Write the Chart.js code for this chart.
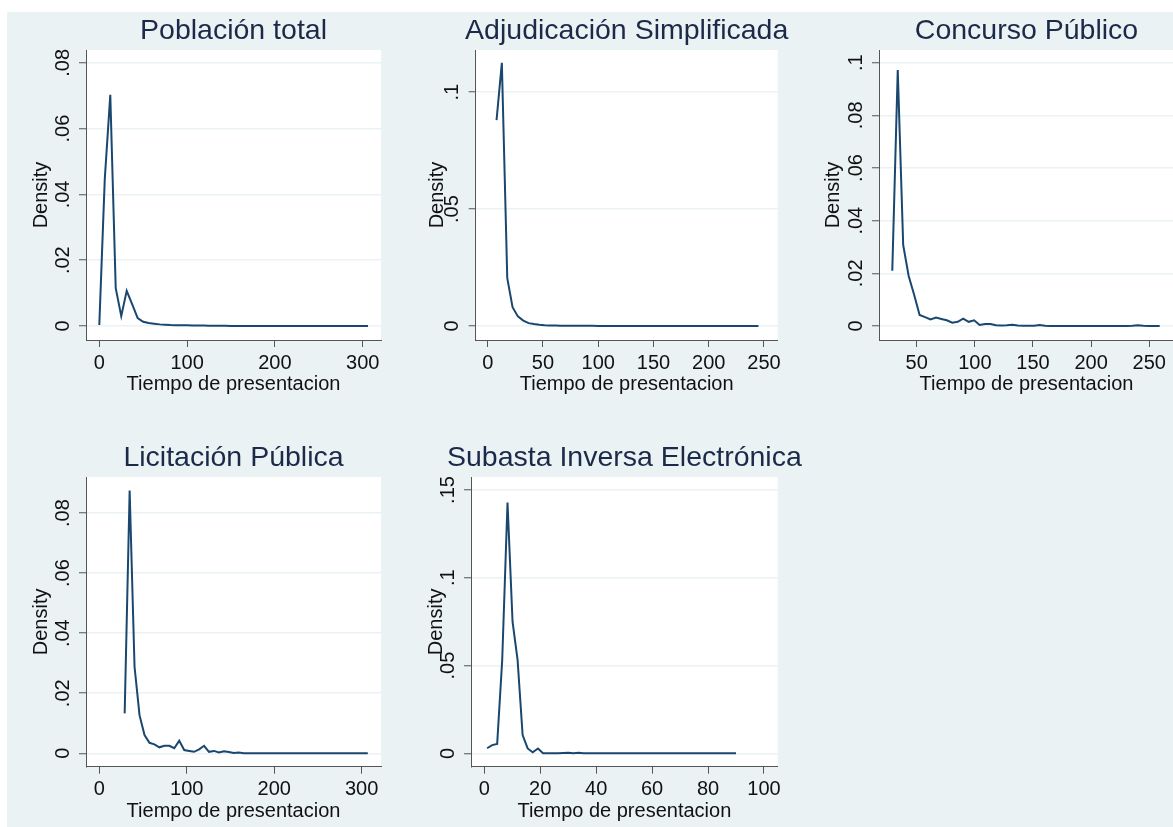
<!DOCTYPE html>
<html>
<head>
<meta charset="utf-8">
<script src="https://cdn.jsdelivr.net/npm/chart.js@4/dist/chart.umd.min.js"></script>
<style>
  html, body { margin: 0; padding: 0; background: #ffffff; width: 1173px; height: 827px; overflow: hidden; }
  body { position: relative; }
  #frame { position: absolute; left: 7px; top: 12px; width: 1166px; height: 815px; background: #eaf2f3; }
  canvas { position: absolute; }
</style>
</head>
<body>
<div id="frame"></div>
<canvas id="c1"></canvas>
<canvas id="c2"></canvas>
<canvas id="c3"></canvas>
<canvas id="c4"></canvas>
<canvas id="c5"></canvas>
<script>
// Kernel density estimates of "Tiempo de presentacion" (50 evaluation points each)

// Población total
const totalX = [0, 6.2, 12.5, 18.7, 25.0, 31.2, 37.5, 43.7, 50.0, 56.2, 62.4, 68.7, 74.9, 81.2, 87.4, 93.7, 99.9, 106.2, 112.4, 118.7,
  124.9, 131.1, 137.4, 143.6, 149.9, 156.1, 162.4, 168.6, 174.9, 181.1, 187.3, 193.6, 199.8, 206.1, 212.3, 218.6, 224.8, 231.1, 237.3, 243.6,
  249.8, 256.0, 262.3, 268.5, 274.8, 281.0, 287.3, 293.5, 299.8, 306.0];
const totalY = [0.0003, 0.0445, 0.0703, 0.0115, 0.0030, 0.0107, 0.0066, 0.0024, 0.0013, 0.0009, 0.0007, 0.0005, 0.0004, 0.0003, 0.00025, 0.0002, 0.0002, 0.00018, 0.00015, 0.00015,
  0.0001, 0.0001, 0.00008, 0.00005, 0.00004, 0.00003, 0.00003, 0.00002, 0.00002, 0.00002, 0.00001, 0.00001, 0.00001, 0.00001, 0.00001, 0, 0, 0, 0, 0,
  0, 0, 0, 0, 0, 0, 0, 0, 0, 0];

// Adjudicación Simplificada
const adjX = [8.0, 12.8, 17.7, 22.5, 27.3, 32.2, 37.0, 41.9, 46.7, 51.5, 56.4, 61.2, 66.0, 70.9, 75.7, 80.6, 85.4, 90.2, 95.1, 99.9,
  104.7, 109.6, 114.4, 119.3, 124.1, 128.9, 133.8, 138.6, 143.4, 148.3, 153.1, 158.0, 162.8, 167.6, 172.5, 177.3, 182.1, 187.0, 191.8, 196.6,
  201.5, 206.3, 211.2, 216.0, 220.8, 225.7, 230.5, 235.3, 240.2, 245.0];
const adjY = [0.0880, 0.1125, 0.0204, 0.0080, 0.0041, 0.0023, 0.0012, 0.0008, 0.0005, 0.0003, 0.0002, 0.00015, 0.0001, 0.0001, 0.00008, 0.00006, 0.00005, 0.00004, 0.00004, 0.00003,
  0.00003, 0.00002, 0.00002, 0.00002, 0.00002, 0.00001, 0.00001, 0.00001, 0.00001, 0.00001, 0, 0, 0, 0, 0, 0, 0, 0, 0, 0,
  0, 0, 0, 0, 0, 0, 0, 0, 0, 0];

// Concurso Público
const concX = [29.0, 33.7, 38.4, 43.1, 47.8, 52.5, 57.2, 61.9, 66.6, 71.2, 75.9, 80.6, 85.3, 90.0, 94.7, 99.4, 104.1, 108.8, 113.5, 118.2,
  122.9, 127.6, 132.3, 137.0, 141.7, 146.3, 151.0, 155.7, 160.4, 165.1, 169.8, 174.5, 179.2, 183.9, 188.6, 193.3, 198.0, 202.7, 207.4, 212.1,
  216.8, 221.4, 226.1, 230.8, 235.5, 240.2, 244.9, 249.6, 254.3, 259.0];
const concY = [0.0210, 0.0972, 0.0307, 0.0190, 0.0119, 0.0042, 0.0034, 0.0025, 0.0032, 0.0027, 0.0022, 0.0013, 0.0016, 0.0028, 0.0016, 0.0022, 0.0004, 0.0008, 0.0008, 0.0003,
  0.0002, 0.0003, 0.0005, 0.0002, 0.0001, 0.0001, 0.0001, 0.0004, 0.0001, 0.00005, 0.00003, 0.00002, 0.00002, 0.00002, 0.00002, 0.00002, 0.00002, 0.00002, 0.00002, 0.00002,
  0.00002, 0.00002, 0.00003, 0.00005, 0.0001, 0.0003, 0.0001, 0.00005, 0.00005, 0.00005];

// Licitación Pública
const licX = [29.0, 34.7, 40.3, 46.0, 51.7, 57.4, 63.0, 68.7, 74.4, 80.1, 85.7, 91.4, 97.1, 102.8, 108.4, 114.1, 119.8, 125.4, 131.1, 136.8,
  142.5, 148.1, 153.8, 159.5, 165.2, 170.8, 176.5, 182.2, 187.8, 193.5, 199.2, 204.9, 210.5, 216.2, 221.9, 227.6, 233.2, 238.9, 244.6, 250.2,
  255.9, 261.6, 267.3, 272.9, 278.6, 284.3, 290.0, 295.6, 301.3, 307.0];
const licY = [0.0133, 0.0875, 0.0288, 0.0127, 0.0061, 0.0035, 0.0030, 0.0020, 0.0025, 0.0025, 0.0017, 0.0042, 0.0011, 0.0008, 0.0005, 0.0013, 0.0025, 0.0005, 0.0008, 0.0003,
  0.0007, 0.0004, 0.0001, 0.0003, 0.00005, 0.00005, 0.00005, 0.00004, 0.00003, 0.00003, 0.00002, 0.00002, 0.00002, 0.00001, 0.00001, 0.00001, 0.00001, 0.00001, 0.00001, 0.00001,
  0, 0, 0, 0, 0, 0, 0, 0, 0, 0];

// Subasta Inversa Electrónica
const subX = [1.0, 2.8, 4.6, 6.4, 8.3, 10.1, 11.9, 13.7, 15.5, 17.3, 19.2, 21.0, 22.8, 24.6, 26.4, 28.2, 30.1, 31.9, 33.7, 35.5,
  37.3, 39.1, 41.0, 42.8, 44.6, 46.4, 48.2, 50.0, 51.9, 53.7, 55.5, 57.3, 59.1, 60.9, 62.8, 64.6, 66.4, 68.2, 70.0, 71.8,
  73.6, 75.5, 77.3, 79.1, 80.9, 82.7, 84.5, 86.4, 88.2, 90.0];
const subY = [0.0029, 0.0047, 0.0053, 0.0530, 0.1429, 0.0750, 0.0532, 0.0104, 0.0028, 0.0006, 0.0028, 0.0001, 0, 0, 0.0001, 0.0002, 0.0003, 0.0001, 0.0003, 0.0001,
  0, 0, 0, 0, 0, 0, 0, 0, 0, 0, 0, 0, 0, 0, 0, 0, 0, 0, 0, 0,
  0, 0, 0, 0, 0, 0, 0, 0, 0, 0];

// Axis ticks and their labels
const ticksX300 = [0, 100, 200, 300];
const ticksX250 = [0, 50, 100, 150, 200, 250];
const ticksXConc = [50, 100, 150, 200, 250];
const ticksX100 = [0, 20, 40, 60, 80, 100];
const ticksY08 = [0, 0.02, 0.04, 0.06, 0.08];
const labelsY08 = ['0', '.02', '.04', '.06', '.08'];
const ticksY10 = [0, 0.05, 0.1];
const labelsY10 = ['0', '.05', '.1'];
const ticksY10b = [0, 0.02, 0.04, 0.06, 0.08, 0.1];
const labelsY10b = ['0', '.02', '.04', '.06', '.08', '.1'];
const ticksY15 = [0, 0.05, 0.1, 0.15];
const labelsY15 = ['0', '.05', '.1', '.15'];

const titles = ['Población total', 'Adjudicación Simplificada', 'Concurso Público', 'Licitación Pública', 'Subasta Inversa Electrónica'];
const xTitle = 'Tiempo de presentacion';
const yTitle = 'Density';

const FONT = "'Liberation Sans', Arial, Helvetica, sans-serif";
const LINE = '#1a476f';
const AXIS = '#555555';
const GRID = '#eaf2f3';

Chart.defaults.font.family = FONT;

// Panel geometry: plot rectangle (page px) and centre of the vertical axis title
const panels = [
  { id: 'c1', title: titles[0], xs: totalX, ys: totalY, xt: ticksX300, yt: ticksY08, yl: labelsY08,
    xr: [-15.15, 320.8], yr: [-0.00425, 0.0839], box: { l: 86, t: 50, r: 381, b: 340 }, ytx: 40.8 },
  { id: 'c2', title: titles[1], xs: adjX, ys: adjY, xt: ticksX250, yt: ticksY10, yl: labelsY10,
    xr: [-10.86, 262.4], yr: [-0.006, 0.118], box: { l: 475.7, t: 50, r: 777.7, b: 340 }, ytx: 437.4 },
  { id: 'c3', title: titles[2], xs: concX, ys: concY, xt: ticksXConc, yt: ticksY10b, yl: labelsY10b,
    xr: [17.58, 271.3], yr: [-0.0053, 0.1048], box: { l: 879, t: 50, r: 1174, b: 340 }, ytx: 833.1 },
  { id: 'c4', title: titles[3], xs: licX, ys: licY, xt: ticksX300, yt: ticksY08, yl: labelsY08,
    xr: [-15.2, 322.1], yr: [-0.00446, 0.0920], box: { l: 86, t: 477, r: 381, b: 766.7 }, ytx: 40.8 },
  { id: 'c5', title: titles[4], xs: subX, ys: subY, xt: ticksX100, yt: ticksY15, yl: labelsY15,
    xr: [-4.755, 104.9], yr: [-0.0076, 0.1574], box: { l: 471, t: 477, r: 777.7, b: 766.7 }, ytx: 436.4 }
];

// White plot region behind the grid and the curve
const plotRegion = {
  id: 'plotRegion',
  beforeDraw(chart) {
    const { ctx, chartArea: a } = chart;
    ctx.save();
    ctx.fillStyle = '#ffffff';
    ctx.fillRect(a.left, a.top, a.right - a.left, a.bottom - a.top);
    ctx.restore();
  }
};

// Title stays centred over the plot but may run wider than it
const wideTitle = {
  id: 'wideTitle',
  afterLayout(chart) {
    const t = chart.titleBlock;
    if (t) { t.left -= 40; t.right += 40; t.width = t.right - t.left; }
  }
};

const TITLE_SIZE = 28.5;
const TITLE_PAD_TOP = 2;
const TITLE_PAD_BOTTOM = 1.8;
const AXIS_SIZE = 20;
const X_AXIS_H = 56;
const RIGHT_PAD = 36;

panels.forEach(p => {
  const canvas = document.getElementById(p.id);
  const left = Math.round(p.ytx - AXIS_SIZE * 1.2 / 2);
  const top = Math.round(p.box.t - (TITLE_SIZE * 1.2 + TITLE_PAD_TOP + TITLE_PAD_BOTTOM));
  const yAxisW = p.box.l - left;
  const titleH = p.box.t - top;
  const width = Math.round(p.box.r - left + RIGHT_PAD);
  const rightPad = width - (p.box.r - left);
  const height = Math.round(p.box.b - top + X_AXIS_H);
  canvas.width = width;
  canvas.height = height;
  canvas.style.left = left + 'px';
  canvas.style.top = top + 'px';
  canvas.style.width = width + 'px';
  canvas.style.height = height + 'px';
  const xAxisH = height - (p.box.b - top);
  const padTop = titleH - TITLE_SIZE * 1.2 - TITLE_PAD_BOTTOM;

  new Chart(canvas, {
    type: 'line',
    data: {
      datasets: [{
        data: p.xs.map((x, i) => ({ x: x, y: p.ys[i] })),
        borderColor: LINE,
        borderWidth: 2,
        pointRadius: 0,
        tension: 0,
        fill: false
      }]
    },
    options: {
      responsive: false,
      animation: false,
      devicePixelRatio: 1,
      layout: { padding: { left: 0, top: 0, right: rightPad, bottom: 0 } },
      plugins: {
        legend: { display: false },
        tooltip: { enabled: false },
        title: {
          display: true,
          text: p.title,
          fullSize: false,
          color: '#1c2a4a',
          font: { size: TITLE_SIZE, weight: 'normal', family: FONT },
          padding: { top: padTop, bottom: TITLE_PAD_BOTTOM }
        }
      },
      scales: {
        x: {
          type: 'linear',
          min: p.xr[0],
          max: p.xr[1],
          afterBuildTicks: s => { s.ticks = p.xt.map(v => ({ value: v })); },
          afterFit: s => { s.height = xAxisH; },
          ticks: { color: '#111111', font: { size: AXIS_SIZE }, padding: 4, maxRotation: 0, minRotation: 0,
                   callback: v => String(v) },
          grid: { drawOnChartArea: false, drawTicks: true, tickLength: 7, tickColor: AXIS, tickWidth: 1 },
          border: { display: true, color: AXIS, width: 1 },
          title: { display: true, text: xTitle, color: '#111111', font: { size: AXIS_SIZE }, padding: 0 }
        },
        y: {
          type: 'linear',
          min: p.yr[0],
          max: p.yr[1],
          afterBuildTicks: s => { s.ticks = p.yt.map(v => ({ value: v })); },
          afterFit: s => { s.width = yAxisW; },
          ticks: { color: '#111111', font: { size: AXIS_SIZE }, padding: 2, minRotation: 90, maxRotation: 90,
                   crossAlign: 'center', callback: (v, i) => p.yl[i] },
          grid: { color: GRID, lineWidth: 1.5, drawTicks: true, tickLength: 7, tickColor: AXIS, tickWidth: 1 },
          border: { display: true, color: AXIS, width: 1 },
          title: { display: true, text: yTitle, color: '#111111', font: { size: AXIS_SIZE }, padding: 0 }
        }
      }
    },
    plugins: [plotRegion, wideTitle]
  });
});
</script>
</body>
</html>
